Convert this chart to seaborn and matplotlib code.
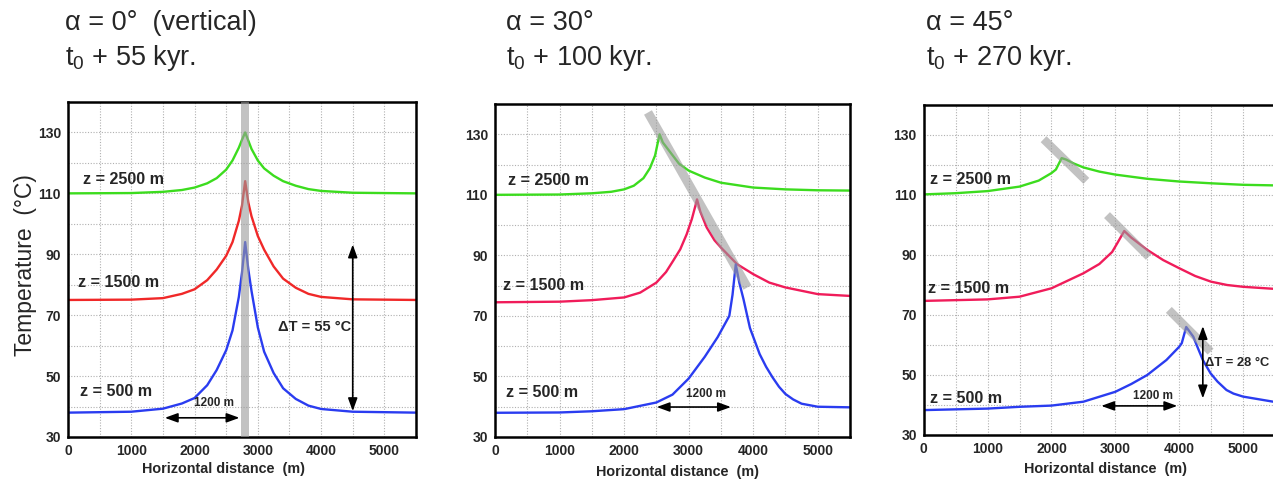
import numpy as np
import pandas as pd
import seaborn as sns
import matplotlib.pyplot as plt
from matplotlib.font_manager import FontProperties

# Panel 1: alpha = 0 (vertical fault), t0 + 55 kyr
x_p1 = [0, 1000, 1500, 1800, 2000, 2200, 2350, 2500, 2600, 2700, 2750, 2800, 2850, 2900,
        3000, 3100, 3250, 3400, 3600, 3800, 4000, 4500, 5500]
t_p1_2500 = [110, 110.1, 110.5, 111.1, 111.9, 113.3, 115, 117.8, 120.8, 125, 127.6, 130, 127.3, 124.6,
             120.8, 118.2, 115.8, 114, 112.5, 111.4, 110.8, 110.2, 110]
t_p1_1500 = [75, 75.1, 75.6, 77, 78.5, 81.5, 85, 89.5, 94, 101, 106, 114, 107, 102.5,
             96, 91.5, 86, 82, 79, 77, 76, 75.2, 75]
t_p1_500 = [38, 38.3, 39.3, 41, 42.8, 47, 52, 58.5, 65, 76, 84, 94, 85, 78,
            66, 58, 51, 46, 42.5, 40.3, 39.2, 38.3, 38]
fault_p1_x = 2800

# Panel 2: alpha = 30, t0 + 100 kyr
x_p2_2500 = [0, 1000, 1500, 1800, 2000, 2150, 2300, 2400, 2480, 2550, 2600, 2700, 2850, 3000,
             3250, 3500, 4000, 4500, 5000, 5500]
t_p2_2500 = [110, 110.1, 110.5, 111, 111.8, 113, 115.5, 118.8, 123, 130, 127.3, 124.5, 120.3, 118,
             115.7, 114, 112.4, 111.8, 111.5, 111.4]
x_p2_1500 = [0, 1000, 1500, 2000, 2250, 2500, 2650, 2760, 2870, 2970, 3050, 3100, 3130, 3180,
             3280, 3400, 3500, 3750, 4000, 4250, 4500, 5000, 5500]
t_p2_1500 = [74.5, 74.7, 75.2, 76.1, 77.7, 81, 84.5, 88.2, 92, 97, 102, 106, 108.5, 104.5,
             99.2, 95, 92.6, 87.1, 83.8, 81, 79.4, 77.2, 76.6]
x_p2_500 = [0, 1000, 1500, 2000, 2500, 2750, 3000, 3250, 3450, 3630, 3680, 3730, 3785, 3850,
            3950, 4100, 4200, 4300, 4400, 4500, 4620, 4750, 5000, 5500]
t_p2_500 = [38, 38.1, 38.5, 39.2, 41.4, 44, 49.3, 56.5, 63, 70, 77, 87, 81, 75.5,
            66, 57.4, 53.2, 49.7, 46.6, 44.2, 42.4, 41, 40, 39.8]
fault_p2_x = [2370, 3910]
fault_p2_t = [137.2, 79.4]

# Panel 3: alpha = 45, t0 + 270 kyr
x_p3_2500 = [0, 500, 1000, 1500, 1800, 2000, 2070, 2160, 2230, 2350, 2500, 2750, 3000, 3500,
             4000, 4500, 5000, 5500]
t_p3_2500 = [110.2, 110.6, 111.3, 112.8, 114.8, 117.3, 118.5, 122.3, 121.8, 120.5, 119.2, 117.8, 116.8, 115.4,
             114.5, 113.9, 113.4, 113.2]
x_p3_1500 = [0, 1000, 1500, 2000, 2500, 2750, 2950, 3030, 3140, 3250, 3500, 3750, 4000, 4250,
             4500, 4750, 5000, 5500]
t_p3_1500 = [74.7, 75.2, 76.1, 78.9, 83.9, 87, 91, 93.9, 98, 95.8, 91.7, 88.3, 85.6, 83,
             81.1, 80, 79.4, 78.7]
x_p3_500 = [0, 1000, 1500, 2000, 2500, 3000, 3250, 3500, 3800, 4000, 4040, 4110, 4220, 4300,
            4370, 4490, 4600, 4740, 4850, 5000, 5500]
t_p3_500 = [38.3, 38.8, 39.4, 39.8, 41.1, 44.4, 47, 50, 55, 59.4, 60.6, 66, 62.8, 58.6,
            55, 50.6, 47.8, 45, 43.8, 42.8, 41]
fault_p3_x = [[1877, 2546], [2870, 3524], [3838, 4492]]
fault_p3_t = [[128.6, 114.7], [103.3, 89.4], [71.7, 57.8]]

depths = ['z = 2500 m', 'z = 1500 m', 'z = 500 m']
x_ticks = [0, 1000, 2000, 3000, 4000, 5000]
y_ticks = [30, 50, 70, 90, 110, 130]

sns.set_style('white')
plt.rcParams['font.family'] = ['Liberation Sans', 'DejaVu Sans']
plt.rcParams['mathtext.fontset'] = 'custom'
plt.rcParams['mathtext.rm'] = 'Liberation Sans'


def bold(size):
    return FontProperties(family=['Liberation Sans', 'DejaVu Sans'], weight='bold', size=size)


green = '#3cdc1e'
blue = '#2a3cf0'
red_p1 = '#f02828'
red_p23 = '#f01c5a'
band = '#9a9a9a'

W, H = 1273, 483
fig = plt.figure(figsize=(W / 100, H / 100), dpi=100)


def rect(l, r, t, b):
    return [l / W, (H - b) / H, (r - l) / W, (b - t) / H]


axes = [fig.add_axes(rect(68, 416, 102, 437)),
        fig.add_axes(rect(495, 850, 104, 437)),
        fig.add_axes(rect(923.7, 1275, 105, 435))]

curves = [
    [(x_p1, t_p1_2500), (x_p1, t_p1_1500), (x_p1, t_p1_500)],
    [(x_p2_2500, t_p2_2500), (x_p2_1500, t_p2_1500), (x_p2_500, t_p2_500)],
    [(x_p3_2500, t_p3_2500), (x_p3_1500, t_p3_1500), (x_p3_500, t_p3_500)],
]
reds = [red_p1, red_p23, red_p23]

label_pos = [
    [(235, 114.5), (160, 80.7), (190, 45)],
    [(206, 114.6), (129, 80), (170, 44.7)],
    [(98, 115), (72, 78.7), (98, 42.3)],
]
arrow_1200 = [((1530, 2710), 36.3, (2300, 41.3)),
              ((2505, 3655), 39.9, (3270, 44.2)),
              ((2780, 3970), 39.7, (3590, 43.0))]
xlabel_x = [2465, 2830, 2840]
xlabel_y = [-0.095, -0.104, -0.104]

arrow_style = dict(arrowstyle='<|-|>,head_length=0.55,head_width=0.2', color='black',
                   lw=1.2, shrinkA=0, shrinkB=0, mutation_scale=14)

for i, ax in enumerate(axes):
    frames = []
    for name, (xs, ts) in zip(depths, curves[i]):
        frames.append(pd.DataFrame({'x': xs, 'T': ts, 'depth': name}))
    df = pd.concat(frames, ignore_index=True)
    pal = {depths[0]: green, depths[1]: reds[i], depths[2]: blue}
    sns.lineplot(data=df, x='x', y='T', hue='depth', palette=pal, estimator=None,
                 sort=False, legend=False, lw=1.7, ax=ax, zorder=2)

    ax.set_xlim(0, 5500)
    ax.set_ylim(30, 140)
    ax.set_xticks(x_ticks)
    ax.set_xticks(np.arange(0, 5501, 500), minor=True)
    ax.set_yticks(y_ticks)
    ax.set_yticks(np.arange(30, 141, 10), minor=True)
    ax.grid(which='both', color='#b0b0b0', lw=0.8, ls=(0, (1, 1.5)), zorder=0)
    ax.tick_params(which='both', length=0, pad=5)
    for lbl in ax.get_xticklabels() + ax.get_yticklabels():
        lbl.set_fontproperties(bold(10))
    ax.set_xlabel('')
    ax.set_ylabel('')
    for s in ax.spines.values():
        s.set_color('black')
        s.set_linewidth(1.8)

    for name, (lx, ly) in zip(depths, label_pos[i]):
        ax.text(lx, ly, name, ha='left', va='center', fontproperties=bold(11.6), zorder=5)

    (xa, xb), ya, (tx, ty) = arrow_1200[i]
    ax.annotate('', xy=(xb, ya), xytext=(xa, ya), arrowprops=arrow_style, zorder=5)
    ax.text(tx, ty, '1200 m', ha='center', va='center', fontproperties=bold(8.5), zorder=5)

    ax.text(xlabel_x[i], xlabel_y[i], 'Horizontal distance  (m)', transform=ax.get_xaxis_transform(),
            ha='center', va='center', fontproperties=bold(10.4), clip_on=False)

# fault zones
axes[0].axvspan(fault_p1_x - 60, fault_p1_x + 60, color=band, alpha=0.6, lw=0, zorder=3)
axes[1].plot(fault_p2_x, fault_p2_t, color=band, alpha=0.6, lw=6.5, solid_capstyle='butt', zorder=3)
for fx, ft in zip(fault_p3_x, fault_p3_t):
    axes[2].plot(fx, ft, color=band, alpha=0.6, lw=6, solid_capstyle='butt', zorder=3)

# delta T arrows
axes[0].annotate('', xy=(4500, 93.2), xytext=(4500, 38.5), arrowprops=arrow_style, zorder=5)
axes[0].text(4470, 66, '\u0394T = 55 \u00b0C', ha='right', va='center', fontproperties=bold(10.5), zorder=5)
axes[2].annotate('', xy=(4370, 66.3), xytext=(4370, 42.2), arrowprops=arrow_style, zorder=5)
axes[2].text(4400, 53.9, '\u0394T = 28 \u00b0C', ha='left', va='center', fontproperties=bold(9.3),
             zorder=5, clip_on=False)

fig.text(26 / W, 1 - 265 / H, 'Temperature  (\u00b0C)', rotation=90, ha='center', va='center', fontsize=16.5)

titles = [('\u03b1 = 0\u00b0  (vertical)', r't$_\mathrm{0}$ + 55 kyr.', 65),
          ('\u03b1 = 30\u00b0', r't$_\mathrm{0}$ + 100 kyr.', 506),
          ('\u03b1 = 45\u00b0', r't$_\mathrm{0}$ + 270 kyr.', 926)]
for line1, line2, px in titles:
    fig.text(px / W, 1 - 23 / H, line1, ha='left', va='center', fontsize=19.5)
    fig.text(px / W, 1 - 58 / H, line2, ha='left', va='center', fontsize=19.5)

fig.savefig('out.png', dpi=100)
